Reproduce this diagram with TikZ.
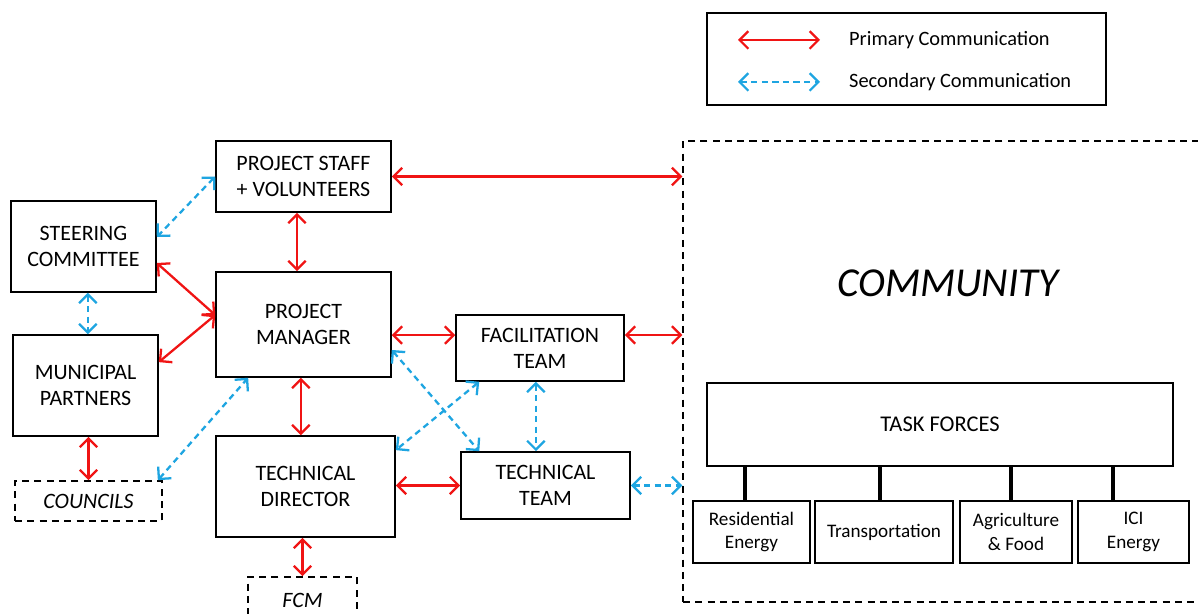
\documentclass[tikz,border=0pt]{standalone}
\usepackage{fontspec}
\setmainfont{Carlito}
\usepackage{tikz}
\usetikzlibrary{arrows.meta}
\definecolor{primred}{RGB}{240,20,20}
\definecolor{secblue}{RGB}{30,165,225}

\begin{document}
\begin{tikzpicture}[x=0.02cm,y=-0.02cm,
	box/.style={draw,line width=0.9pt,align=center,inner sep=0pt,font=\fontsize{12.5}{14.7}\selectfont},
	dbox/.style={box,dash pattern=on 4pt off 3pt,font=\fontsize{12.5}{14.7}\selectfont\itshape},
	tfbox/.style={box,minimum height=1.24cm,font=\fontsize{10.9}{13.5}\selectfont},
	prim/.style={primred,line width=1.3pt,{Straight Barb[length=5pt,width=10pt]}-{Straight Barb[length=5pt,width=10pt]}},
	sec/.style={secblue,line width=1.3pt,dash pattern=on 3.5pt off 2.5pt,{Straight Barb[length=5pt,width=10pt]}-{Straight Barb[length=5pt,width=10pt]}},
	tfline/.style={line width=2.2pt}]
	\clip (0,0) rectangle (1198,614);
	\fill[white] (0,0) rectangle (1198,614);
	\draw[line width=0.9pt] (707,13) rectangle (1106,105);
	\coordinate (lpa) at (738,40);
	\coordinate (lpb) at (820,40);
	\coordinate (lsa) at (738,82);
	\coordinate (lsb) at (820,82);
	\draw[prim] (lpa) -- (lpb);
	\draw[sec] (lsa) -- (lsb);
	\node[anchor=west,font=\fontsize{11.6}{13}\selectfont] (lprim) at (843,40) {Primary Communication};
	\node[anchor=west,font=\fontsize{11.6}{13}\selectfont] (lsec) at (843,82) {Secondary Communication};
	\node[box,minimum width=3.5cm,minimum height=1.42cm] (staff) at (303.5,176.5) {PROJECT STAFF\\+ VOLUNTEERS};
	\node[box,minimum width=2.9cm,minimum height=1.82cm] (steer) at (83.5,246.5) {STEERING\\COMMITTEE};
	\node[box,minimum width=3.5cm,minimum height=2.1cm] (pm) at (303.5,324.5) {PROJECT\\MANAGER};
	\node[box,minimum width=2.9cm,minimum height=2.02cm] (muni) at (85.5,385.5) {MUNICIPAL\\PARTNERS};
	\node[dbox,minimum width=2.94cm,minimum height=0.8cm] (councils) at (88.5,501) {COUNCILS};
	\node[box,minimum width=3.58cm,minimum height=2.02cm] (td) at (305.5,486.5) {TECHNICAL\\DIRECTOR};
	\node[dbox,minimum width=2.18cm,minimum height=0.92cm] (fcm) at (302.5,600) {FCM};
	\node[box,minimum width=3.36cm,minimum height=1.32cm] (fac) at (540,348) {FACILITATION\\TEAM};
	\node[box,minimum width=3.38cm,minimum height=1.34cm] (tech) at (545.5,485.5) {TECHNICAL\\TEAM};
	\node[draw,line width=0.9pt,dash pattern=on 4pt off 3pt,minimum width=10.64cm,minimum height=9.22cm,inner sep=0pt] (comm) at (949,371.5) {};
	\node[font=\fontsize{23.4}{28}\selectfont\itshape] (commlabel) at (948,283) {COMMUNITY};
	\node[box,minimum width=9.32cm,minimum height=1.66cm,font=\fontsize{12.8}{15}\selectfont] (tf) at (940,424.5) {TASK FORCES};
	\node[tfbox,minimum width=2.34cm] (res) at (751.5,532) {Residential\\Energy};
	\node[tfbox,minimum width=2.76cm] (trans) at (884,532) {Transportation};
	\node[tfbox,minimum width=2.24cm] (agri) at (1016,532) {Agriculture\\\& Food};
	\node[tfbox,minimum width=2.22cm] (ici) at (1133.5,532) {ICI\\Energy};
	\draw[tfline] ([xshift=-3.7pt]res.north |- tf.south) -- ([xshift=-3.7pt]res.north);
	\draw[tfline] ([xshift=-2.3pt]trans.north |- tf.south) -- ([xshift=-2.3pt]trans.north);
	\draw[tfline] ([xshift=-2.8pt]agri.north |- tf.south) -- ([xshift=-2.8pt]agri.north);
	\draw[tfline] ([xshift=-11.6pt]ici.north |- tf.south) -- ([xshift=-11.6pt]ici.north);
	\draw[prim] (staff.east) -- (staff.east -| comm.west);
	\draw[sec] (staff.west) -- ([yshift=5.4pt]steer.east);
	\draw[prim] ([xshift=-3.7pt]staff.south) -- ([xshift=-3.7pt]pm.north);
	\draw[prim] ([yshift=-9.4pt]steer.east) -- ([yshift=5.4pt]pm.west);
	\draw[prim] ([yshift=5.4pt]pm.west) -- ([yshift=13.3pt]muni.east);
	\draw[sec] ([xshift=2.5pt]steer.south) -- ([xshift=2.5pt]steer.south |- muni.north);
	\draw[prim] (councils.north |- muni.south) -- (councils.north);
	\draw[sec] ([xshift=-2.8pt]councils.north east) -- ([xshift=-31.5pt]pm.south);
	\draw[prim] ([xshift=-1.5pt]pm.south) -- ([xshift=-1.5pt]pm.south |- td.north);
	\draw[prim] ([yshift=-6pt]pm.east) -- ([yshift=-6pt]pm.east -| fac.west);
	\draw[prim] ([yshift=7.4pt]fac.east) -- ([yshift=7.4pt]fac.east -| comm.west);
	\draw[sec] ([yshift=-14.5pt]pm.east) -- ([xshift=-37.7pt]tech.north);
	\draw[sec] ([xshift=-34.6pt]fac.south) -- ([yshift=20.7pt]td.east);
	\draw[sec] ([xshift=-2.3pt]fac.south) -- ([xshift=-2.3pt]fac.south |- tech.north);
	\draw[prim] (td.east |- tech.west) -- (tech.west);
	\draw[sec] (tech.east) -- (tech.east -| comm.west);
	\draw[prim] (fcm.north |- td.south) -- (fcm.north);
\end{tikzpicture}
\end{document}
